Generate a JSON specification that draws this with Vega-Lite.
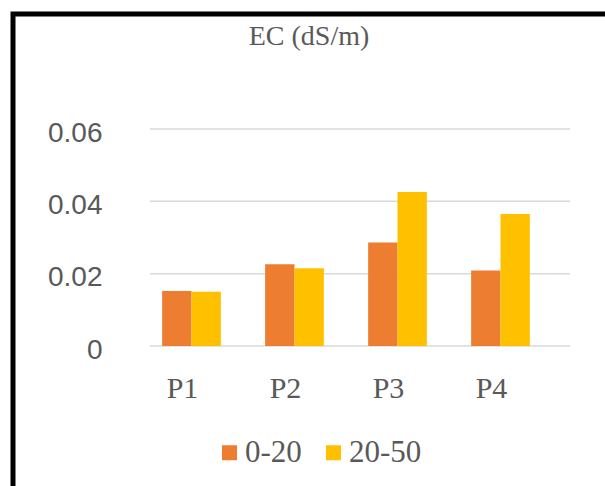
{
  "$schema": "https://vega.github.io/schema/vega-lite/v6.json",
  "autosize": "none",
  "width": 600,
  "height": 480,
  "padding": {"left": 13, "top": 14, "right": 0, "bottom": 0},
  "background": "white",
  "title": {"text": "EC (dS/m)", "font": "Liberation Serif", "fontSize": 28, "fontWeight": "normal", "color": "#595959", "anchor": "middle", "offset": 0, "baseline": "top", "dx": -4, "dy": 37},
  "datasets": {
    "bars": [
      {"plot": "P1", "depth": "0-20", "value": 0.0152},
      {"plot": "P1", "depth": "20-50", "value": 0.0150},
      {"plot": "P2", "depth": "0-20", "value": 0.0226},
      {"plot": "P2", "depth": "20-50", "value": 0.0215},
      {"plot": "P3", "depth": "0-20", "value": 0.0286},
      {"plot": "P3", "depth": "20-50", "value": 0.0426},
      {"plot": "P4", "depth": "0-20", "value": 0.0209},
      {"plot": "P4", "depth": "20-50", "value": 0.0365}
    ],
    "grid": [{"v": 0}, {"v": 0.02}, {"v": 0.04}, {"v": 0.06}]
  },
  "layer": [
    {
      "data": {"name": "grid"},
      "mark": {"type": "rule", "color": "#d9d9d9", "strokeWidth": 1.5},
      "encoding": {
        "y": {
          "field": "v", "type": "quantitative",
          "scale": {"domain": [0, 0.06], "range": [332, 115]},
          "axis": {"title": null, "orient": "left", "offset": -89, "domain": false, "ticks": false, "grid": false, "labelPadding": 0, "labelFont": "Liberation Sans", "labelFontSize": 28, "labelColor": "#595959", "values": [0, 0.02, 0.04, 0.06], "format": "~g", "labelOffset": 4}
        },
        "x": {"datum": 0, "type": "quantitative", "scale": {"domain": [0, 1], "range": [137, 557]}, "axis": null},
        "x2": {"datum": 1}
      }
    },
    {
      "data": {"name": "bars"},
      "mark": {"type": "bar"},
      "encoding": {
        "x": {
          "field": "plot", "type": "nominal",
          "scale": {"range": [127, 539], "paddingInner": 0.43, "paddingOuter": 0.215},
          "axis": {"title": null, "orient": "bottom", "offset": -121, "domain": false, "ticks": false, "grid": false, "labelPadding": 0, "labelFont": "Liberation Serif", "labelFontSize": 30, "labelColor": "#595959", "labelOffset": -9, "labelAngle": 0, "labelBaseline": "top"}
        },
        "xOffset": {"field": "depth", "type": "nominal", "sort": ["0-20", "20-50"], "scale": {"paddingInner": 0, "paddingOuter": 0}},
        "y": {
          "field": "value", "type": "quantitative",
          "axis": {"title": null, "orient": "left", "offset": -89, "domain": false, "ticks": false, "grid": false, "labelPadding": 0, "labelFont": "Liberation Sans", "labelFontSize": 28, "labelColor": "#595959", "values": [0, 0.02, 0.04, 0.06], "format": "~g", "labelOffset": 4}
        },
        "color": {
          "field": "depth", "type": "nominal",
          "scale": {"domain": ["0-20", "20-50"], "range": ["#ED7D31", "#FFC000"]},
          "legend": {
            "orient": "none", "legendX": 201, "legendY": 423, "direction": "horizontal", "title": null,
            "symbolType": "square", "symbolSize": 225, "symbolStrokeWidth": 0,
            "labelFont": "Liberation Serif", "labelFontSize": 31, "labelColor": "#595959", "labelOffset": 0, "columnPadding": 16, "labelLimit": 200
          }
        }
      }
    }
  ],
  "resolve": {"scale": {"x": "independent"}},
  "config": {
    "view": {"stroke": "black", "strokeWidth": 5},
    "axis": {"grid": false},
    "legend": {"labelFont": "Liberation Serif", "labelFontSize": 31, "labelColor": "#595959"}
  }
}
